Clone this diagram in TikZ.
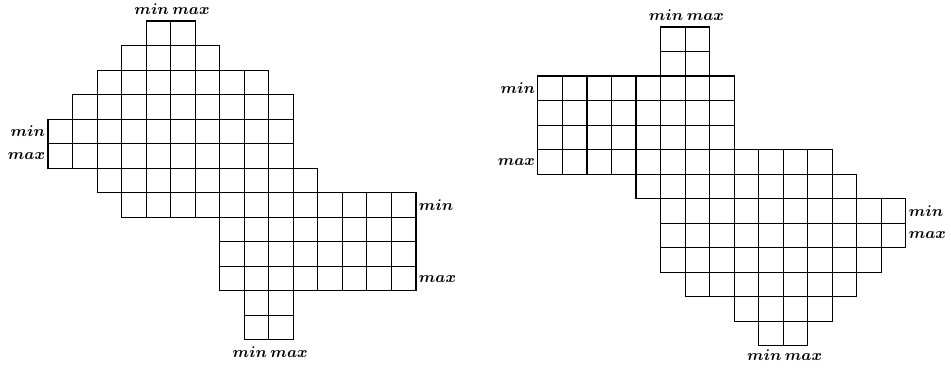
\documentclass[tikz,border=0pt]{standalone}
\begin{document}
\begin{tikzpicture}[x=0.5cm,y=-0.5cm,
  cell/.style={draw,line width=0.65pt},
  lbl/.style={font=\small\boldmath,inner sep=1.5pt}]
\useasboundingbox (0,0) rectangle (38.77,15.04);

% left board: row/first column/last column
\begin{scope}[shift={(1.957,0.856)}]
\foreach \r/\a/\b in {0/4/5,1/3/6,2/2/8,3/1/9,4/0/9,5/0/9,6/2/10,
                      7/3/14,8/7/14,9/7/14,10/7/14,11/8/9,12/8/9}
  \foreach \c in {\a,...,\b}
    \draw[cell] (\c,\r) rectangle ++(1,1);
\node[lbl,anchor=base east] (ltmin) at (5.05,-0.25) {$min$};
\node[lbl,anchor=base west] (ltmax) at (4.95,-0.25) {$max$};
\node[lbl,left] (llmin) at (0,4.5) {$min$};
\node[lbl,left] (llmax) at (0,5.5) {$max$};
\node[lbl,right] (lrmin) at (15,7.5) {$min$};
\node[lbl,right] (lrmax) at (15,10.5) {$max$};
\node[lbl,anchor=base east] (lbmin) at (9.05,13.7) {$min$};
\node[lbl,anchor=base west] (lbmax) at (8.95,13.7) {$max$};
\end{scope}

% right board
\begin{scope}[shift={(21.93,1.10)}]
\foreach \r/\a/\b in {0/5/6,1/5/6,2/0/7,3/0/7,4/0/7,5/0/11,6/4/12,
                      7/5/14,8/5/14,9/5/13,10/6/12,11/8/11,12/9/10}
  \foreach \c in {\a,...,\b}
    \draw[cell] (\c,\r) rectangle ++(1,1);
\node[lbl,anchor=base east] (rtmin) at (6.05,-0.28) {$min$};
\node[lbl,anchor=base west] (rtmax) at (5.95,-0.28) {$max$};
\node[lbl,left] (rlmin) at (0,2.5) {$min$};
\node[lbl,left] (rlmax) at (0,5.5) {$max$};
\node[lbl,right] (rrmin) at (15,7.5) {$min$};
\node[lbl,right] (rrmax) at (15,8.5) {$max$};
\node[lbl,anchor=base east] (rbmin) at (10.05,13.6) {$min$};
\node[lbl,anchor=base west] (rbmax) at (9.95,13.6) {$max$};
\end{scope}
\end{tikzpicture}
\end{document}
